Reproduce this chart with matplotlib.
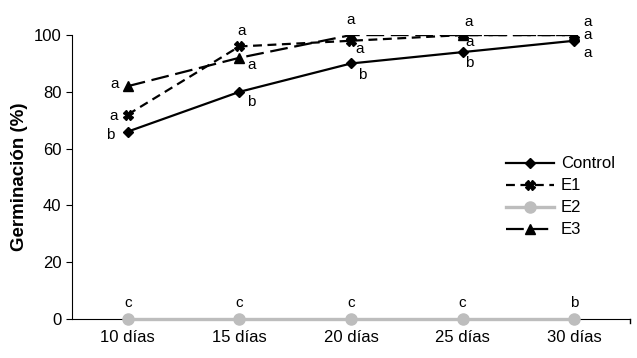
import matplotlib.pyplot as plt
import numpy as np

plt.rcParams['font.family'] = ['Liberation Sans', 'DejaVu Sans']

dias = ['10 días', '15 días', '20 días', '25 días', '30 días']
control = [66, 80, 90, 94, 98]
e1 = [72, 96, 98, 100, 100]
e2 = [0, 0, 0, 0, 0]
e3 = [82, 92, 100, 100, 100]

# letters of significance (series, index, letter, dx in px, dy in px)
letras = [
    (control, 0, 'b', -18, -3), (control, 1, 'b', 12, -10), (control, 2, 'b', 11, -12),
    (control, 3, 'b', 7, -11), (control, 4, 'a', 13, -12),
    (e1, 0, 'a', -14, -1), (e1, 1, 'a', 2, 15), (e1, 2, 'a', 9, -8),
    (e1, 3, 'a', 7, -7), (e1, 4, 'a', 13, 0),
    (e3, 0, 'a', -13, 2), (e3, 1, 'a', 12, -7), (e3, 2, 'a', 0, 15),
    (e3, 3, 'a', 6, 13), (e3, 4, 'a', 13, 13),
    (e2, 0, 'c', 0, 16), (e2, 1, 'c', 0, 16), (e2, 2, 'c', 0, 16),
    (e2, 3, 'c', 0, 16), (e2, 4, 'b', 0, 16),
]

x = np.arange(len(dias))
fig = plt.figure(figsize=(6.37, 3.58), dpi=100)
ax = fig.add_axes([0.113, 0.109, 0.876, 0.793])

ax.plot(x, e2, color='#bdbdbd', marker='o', ms=8, lw=2.4, label='E2', zorder=4, clip_on=False)
ax.plot(x, control, color='black', marker='D', ms=5, lw=1.6, label='Control', zorder=3)
ax.plot(x, e1, color='black', marker='X', ms=7, lw=1.6, dashes=(4, 2.5), label='E1', zorder=3)
ax.plot(x, e3, color='black', marker='^', ms=7, lw=1.6, dashes=(8, 3), label='E3', zorder=3)

for serie, i, letra, dx, dy in letras:
    ax.annotate(letra, (x[i], serie[i]), xytext=(dx * 0.72, dy * 0.72),
                textcoords='offset points', ha='center', va='center', fontsize=11)

ax.set_xlim(-0.5, 4.5)
ax.set_ylim(0, 100)
ax.set_yticks([0, 20, 40, 60, 80, 100])
ax.set_xticks(x)
ax.set_xticklabels(dias)
ax.tick_params(axis='x', length=0, labelsize=12, pad=8)
ax.tick_params(axis='y', length=4, labelsize=12, direction='out')
ax.spines['top'].set_visible(False)
ax.spines['right'].set_visible(False)
ax.set_ylabel('Germinación (%)', fontsize=13.5, fontweight='bold', labelpad=4)
ax.plot([4.5, 4.5], [0, -1.5], color='black', lw=1, clip_on=False)

h, l = ax.get_legend_handles_labels()
orden = [1, 2, 0, 3]
ax.legend([h[i] for i in orden], [l[i] for i in orden], loc='center right',
          bbox_to_anchor=(1.0, 0.43), frameon=False, fontsize=12,
          handlelength=2.9, handletextpad=0.4, labelspacing=0.42)

fig.savefig('out.png', dpi=100)
